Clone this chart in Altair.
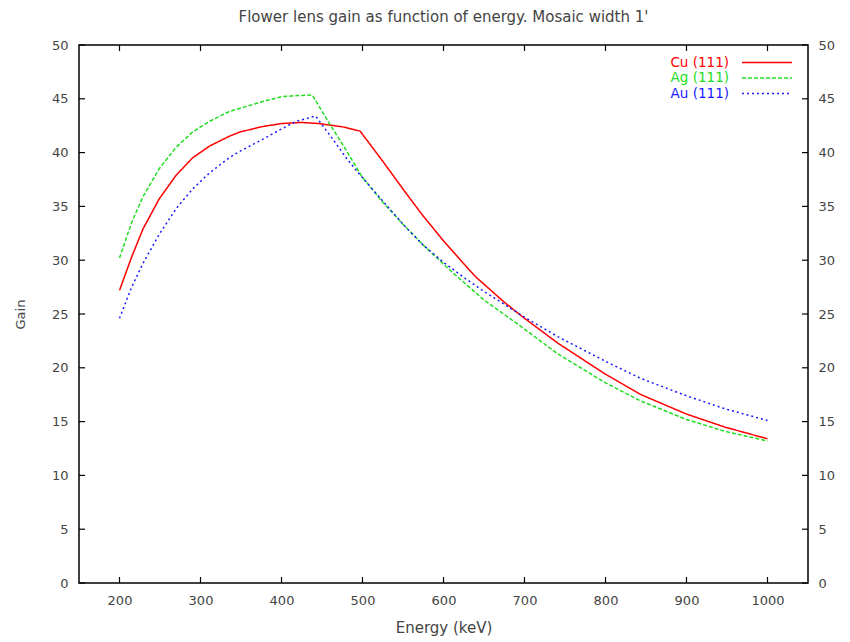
import altair as alt
import pandas as pd

# ---- data ----
cu_energy = [200, 215, 229, 249, 270, 290, 311, 335, 348, 375, 400, 425, 446, 475, 497, 525, 553, 575, 600, 639, 675, 700, 741, 800, 844, 900, 947, 1000]
cu_gain = [27.2, 30.3, 32.9, 35.7, 37.9, 39.5, 40.6, 41.5, 41.9, 42.4, 42.7, 42.8, 42.7, 42.4, 42.0, 39.2, 36.3, 34.1, 31.8, 28.5, 26.1, 24.6, 22.3, 19.4, 17.5, 15.7, 14.5, 13.4]

ag_energy = [200, 215, 229, 249, 270, 290, 311, 335, 348, 375, 400, 420, 438, 460, 480, 499, 525, 553, 575, 612, 650, 700, 741, 800, 844, 900, 947, 1000]
ag_gain = [30.2, 33.5, 35.9, 38.5, 40.5, 41.9, 42.9, 43.8, 44.1, 44.7, 45.2, 45.3, 45.35, 42.6, 40.2, 37.8, 35.4, 33.1, 31.4, 28.8, 26.3, 23.6, 21.3, 18.6, 16.9, 15.2, 14.1, 13.2]

au_energy = [200, 215, 229, 249, 270, 290, 311, 335, 348, 376, 400, 418, 442, 460, 480, 495, 525, 553, 575, 600, 627, 650, 700, 741, 800, 844, 900, 947, 1000]
au_gain = [24.6, 27.5, 29.7, 32.4, 34.8, 36.6, 38.1, 39.5, 40.1, 41.2, 42.2, 42.9, 43.4, 41.6, 39.5, 38.1, 35.5, 33.1, 31.4, 29.8, 28.3, 27.1, 24.7, 22.9, 20.6, 19.0, 17.4, 16.2, 15.1]

series_names = ["Cu (111)", "Ag (111)", "Au (111)"]
series_colors = ["#ff0000", "#22dd22", "#1a1aff"]
series_dash = [[1, 0], [4, 2], [2, 3]]

x_ticks = [200, 300, 400, 500, 600, 700, 800, 900, 1000]
y_ticks = [0, 5, 10, 15, 20, 25, 30, 35, 40, 45, 50]

title_text = "Flower lens gain as function of energy. Mosaic width 1'"

W, H = 729, 538
FONT = "DejaVu Sans"
GREY = "#444444"

xscale = alt.Scale(domain=[150, 1050], nice=False, zero=False)
yscale = alt.Scale(domain=[0, 50], nice=False, zero=False)

layers = []
for i, (name, en, g, col, dash) in enumerate(zip(series_names, [cu_energy, ag_energy, au_energy],
                                                 [cu_gain, ag_gain, au_gain], series_colors, series_dash)):
    df = pd.DataFrame({"Energy": en, "Gain": g})
    if i == 0:
        xaxis = alt.Axis(title="Energy (keV)", values=x_ticks, format="d", ticks=False, domain=False,
                         grid=False, labelPadding=11, titlePadding=13,
                         labelFontSize=13, titleFontSize=15, labelColor=GREY,
                         titleColor=GREY, labelFont=FONT, titleFont=FONT,
                         titleFontWeight="normal", labelFlush=False)
        yaxis = alt.Axis(title="Gain", values=y_ticks, ticks=False, domain=False,
                         grid=False, labelPadding=11, titlePadding=24,
                         labelFontSize=13, titleFontSize=13, labelColor=GREY,
                         titleColor=GREY, labelFont=FONT, titleFont=FONT,
                         titleFontWeight="normal", labelFlush=False)
        xenc = alt.X("Energy:Q", scale=xscale, axis=xaxis)
        yenc = alt.Y("Gain:Q", scale=yscale, axis=yaxis)
    else:
        xenc = alt.X("Energy:Q", scale=xscale, axis=None)
        yenc = alt.Y("Gain:Q", scale=yscale, axis=None)
    layers.append(
        alt.Chart(df).mark_line(color=col, strokeWidth=1.5, strokeDash=dash, clip=True)
        .encode(x=xenc, y=yenc, order="Energy:Q")
    )

# tick marks (inward, mirrored on all four sides)
xt = pd.DataFrame({"t": x_ticks})
yt = pd.DataFrame({"t": y_ticks})
TL = 6
layers.append(alt.Chart(xt).mark_rule(color="black", strokeWidth=1.2).encode(
    x=alt.X("t:Q", scale=xscale, axis=None), y=alt.value(H), y2=alt.value(H - TL)))
layers.append(alt.Chart(xt).mark_rule(color="black", strokeWidth=1.2).encode(
    x=alt.X("t:Q", scale=xscale, axis=None), y=alt.value(0), y2=alt.value(TL)))
layers.append(alt.Chart(yt).mark_rule(color="black", strokeWidth=1.2).encode(
    y=alt.Y("t:Q", scale=yscale, axis=None), x=alt.value(0), x2=alt.value(TL)))
layers.append(alt.Chart(yt).mark_rule(color="black", strokeWidth=1.2).encode(
    y=alt.Y("t:Q", scale=yscale,
            axis=alt.Axis(orient="right", title=None, values=y_ticks, ticks=False, domain=False,
                          grid=False, labelPadding=10, labelFontSize=13, labelColor=GREY,
                          labelFont=FONT, labelFlush=False)),
    x=alt.value(W), x2=alt.value(W - TL)))

# legend (top right, inside)
for i, (name, col, dash) in enumerate(zip(series_names, series_colors, series_dash)):
    row = pd.DataFrame({"name": [name]})
    yy = 17.5 + 15.5 * i
    layers.append(alt.Chart(row).mark_text(align="right", baseline="middle", fontSize=13.5,
                                           font=FONT, color=col).encode(
        text="name:N", x=alt.value(650), y=alt.value(yy)))
    layers.append(alt.Chart(row).mark_rule(color=col, strokeWidth=1.5, strokeDash=dash).encode(
        x=alt.value(663), x2=alt.value(713), y=alt.value(yy)))

chart = (
    alt.layer(*layers)
    .resolve_axis(x="independent", y="independent")
    .properties(
        width=W, height=H,
        background="white",
        title=alt.TitleParams(title_text, fontSize=15, font=FONT, color=GREY,
                              fontWeight="normal", offset=14),
        autosize=alt.AutoSizeParams(type="none"),
        padding={"left": 71, "top": 37, "right": 30, "bottom": 58},
    )
    .configure_view(stroke="black", strokeWidth=1.5)
)

chart.save("out.html", embed_options={"renderer": "svg", "actions": False})
